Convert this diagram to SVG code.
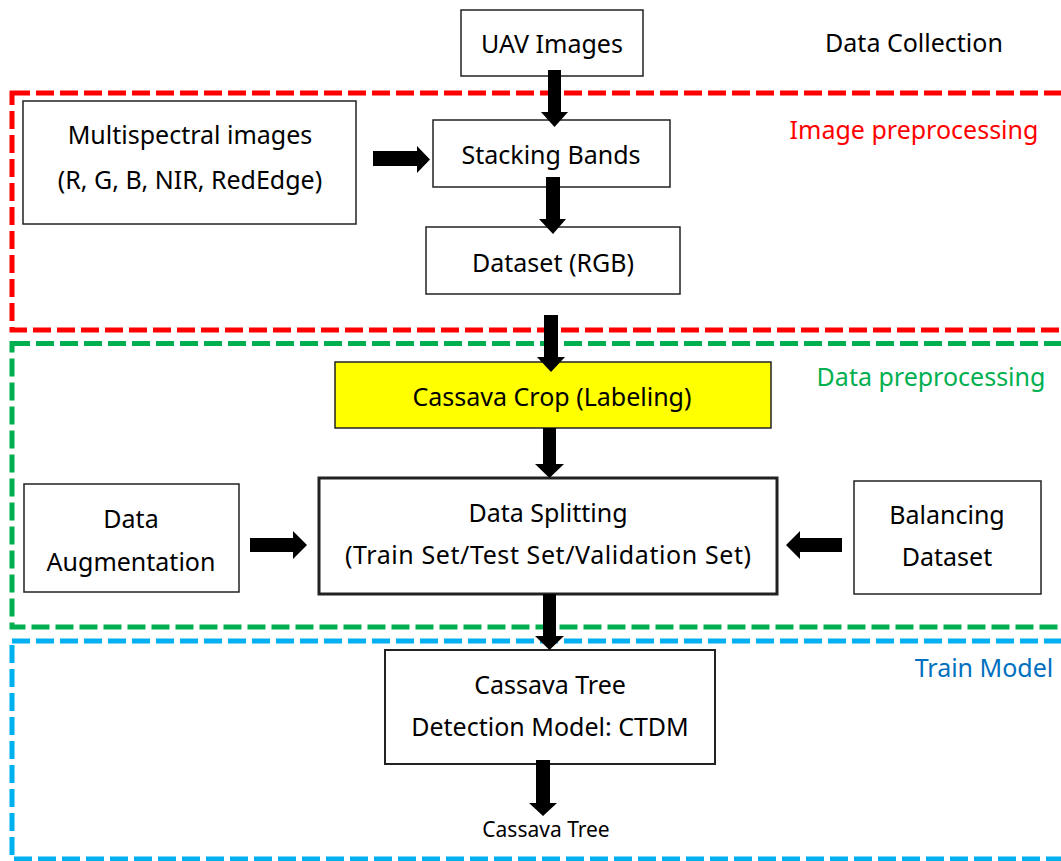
<svg xmlns="http://www.w3.org/2000/svg" width="1061" height="861" viewBox="0 0 1061 861">
  <style>
    .box { fill: #ffffff; stroke: #222222; stroke-width: 1.5; }
    .t { font-family: "Noto Sans", "Open Sans", sans-serif; font-size: 25px; fill: #000000; text-anchor: middle; }
    .zone { fill: none; stroke-width: 5; stroke-dasharray: 18 6; }
    .arrow { fill: #000000; }
  </style>

  <rect width="1061" height="861" fill="#ffffff"/>

  <!-- stage frames -->
  <g id="stages">
    <rect class="zone" x="12" y="93" width="1065" height="237" stroke="#FF0000"/>
    <rect class="zone" x="12" y="343.5" width="1065" height="283.5" stroke="#00B050"/>
    <rect class="zone" x="12" y="641" width="1065" height="218" stroke="#00B0F0"/>
    <text class="t" x="914" y="52">Data Collection</text>
    <text class="t" x="914" y="139" style="fill:#FF0000">Image preprocessing</text>
    <text class="t" x="931" y="386" style="fill:#00B050">Data preprocessing</text>
    <text class="t" x="984" y="677" style="fill:#0070C0">Train Model</text>
  </g>

  <g id="uav">
    <rect class="box" x="461" y="10" width="182" height="66"/>
    <text class="t" x="552" y="53">UAV Images</text>
  </g>

  <g id="multispectral">
    <rect class="box" x="23" y="101" width="333" height="123"/>
    <text class="t" x="190" y="144">Multispectral images</text>
    <text class="t" x="190" y="189">(R, G, B, NIR, RedEdge)</text>
  </g>

  <g id="stacking">
    <rect class="box" x="433" y="120" width="237" height="67"/>
    <text class="t" x="551" y="164">Stacking Bands</text>
  </g>

  <g id="dataset-rgb">
    <rect class="box" x="426" y="227" width="254" height="67"/>
    <text class="t" x="553" y="272">Dataset (RGB)</text>
  </g>

  <g id="labeling">
    <rect class="box" x="335" y="362" width="436" height="66" style="fill:#FFFF00"/>
    <text class="t" x="552" y="406">Cassava Crop (Labeling)</text>
  </g>

  <g id="splitting">
    <rect class="box" x="319" y="478" width="458" height="116" style="stroke-width:3"/>
    <text class="t" x="548" y="522">Data Splitting</text>
    <text class="t" x="548" y="564" textLength="406" lengthAdjust="spacing">(Train Set/Test Set/Validation Set)</text>
  </g>

  <g id="augmentation">
    <rect class="box" x="24" y="484" width="215" height="108"/>
    <text class="t" x="131" y="528">Data</text>
    <text class="t" x="131" y="571">Augmentation</text>
  </g>

  <g id="balancing">
    <rect class="box" x="854" y="481" width="187" height="113"/>
    <text class="t" x="947" y="524">Balancing</text>
    <text class="t" x="947" y="566">Dataset</text>
  </g>

  <g id="ctdm">
    <rect class="box" x="385" y="650" width="330" height="114" style="stroke-width:2"/>
    <text class="t" x="550" y="694">Cassava Tree</text>
    <text class="t" x="550" y="736">Detection Model: CTDM</text>
  </g>

  <g id="output">
    <text class="t" x="546" y="837" style="font-size:21px">Cassava Tree</text>
  </g>

  <!-- block arrows -->
  <g id="connectors">
    <polygon class="arrow" points="548,70 561,70 561,112 568,112 554.5,127 541,112 548,112"/>
    <polygon class="arrow" points="373,151 417,151 417,146 430,159.5 417,173 417,166 373,166"/>
    <polygon class="arrow" points="546,177 560,177 560,219 566,219 553,234 539,219 546,219"/>
    <polygon class="arrow" points="544,315 558,315 558,357 565,357 551,372 537,357 544,357"/>
    <polygon class="arrow" points="543,428 556,428 556,464 564,464 549.5,478 535,464 543,464"/>
    <polygon class="arrow" points="543,594 556,594 556,636 564,636 549.5,650 535,636 543,636"/>
    <polygon class="arrow" points="250,538 293,538 293,531 307,545 293,559 293,552 250,552"/>
    <polygon class="arrow" points="842,538 800,538 800,531 786,545 800,559 800,552 842,552"/>
    <polygon class="arrow" points="536,760 550,760 550,803 557,803 543,816 529,803 536,803"/>
  </g>
</svg>
